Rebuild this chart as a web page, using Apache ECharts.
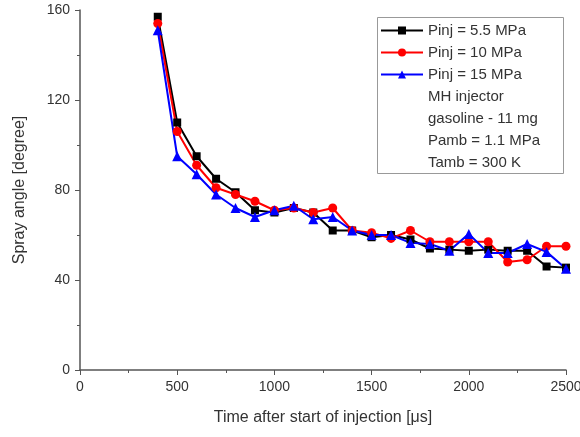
<!DOCTYPE html>
<html>
<head>
<meta charset="utf-8">
<script src="https://cdn.jsdelivr.net/npm/echarts@6/dist/echarts.min.js"></script>
<style>
  html, body { margin: 0; padding: 0; background: #fff; }
  #main { width: 580px; height: 437px; }
</style>
</head>
<body>
<div id="main"></div>
<script>
// time after start of injection [us]
var times = [400, 500, 600, 700, 800, 900, 1000, 1100, 1200, 1300, 1400, 1500, 1600, 1700, 1800, 1900, 2000, 2100, 2200, 2300, 2400, 2500];
// spray angle [degree]
var p55 = [157, 110, 95, 85, 79, 71, 70, 72, 70, 62, 62, 59, 60, 58, 54, 53.5, 53, 53.5, 53, 53, 46, 45.5];
var p10 = [154, 106, 91, 81, 78, 75, 71, 72, 70, 72, 62, 61, 58.5, 62, 57, 57, 57, 57, 48, 49, 55, 55];
var p15 = [151, 95, 87, 78, 72, 68, 71, 73, 67, 68, 62, 60, 60, 56.5, 56, 53, 60.5, 52, 52, 56, 52.5, 45];
var seriesNames = ['Pinj = 5.5 MPa', 'Pinj = 10 MPa', 'Pinj = 15 MPa'];
var noteLines = ['MH injector', 'gasoline - 11 mg', 'Pamb = 1.1 MPa', 'Tamb = 300 K'];

function pairs(ys) {
    var out = [];
    for (var i = 0; i < times.length; i++) {
        out.push([times[i], ys[i]]);
    }
    return out;
}

var myChart = echarts.init(document.getElementById('main'));
var font = 'Liberation Sans, Arial, sans-serif';

var option = {
    animation: false,
    grid: { left: 80, right: 14, top: 10, bottom: 67, outerBoundsMode: 'none', containLabel: false },
    legend: {
        orient: 'vertical',
        left: 380,
        top: 23,
        padding: 0,
        itemWidth: 42,
        itemHeight: 10,
        itemGap: 7,
        textStyle: { fontFamily: font, fontSize: 15, color: '#333' },
        data: seriesNames
    },
    xAxis: {
        type: 'value',
        min: 0,
        max: 2500,
        interval: 500,
        name: 'Time after start of injection [\u03bcs]',
        nameLocation: 'middle',
        nameGap: 40,
        nameTextStyle: { fontFamily: font, fontSize: 16, color: '#333' },
        axisLine: { lineStyle: { color: '#555', width: 1.5 } },
        axisTick: { length: 5, lineStyle: { color: '#555' } },
        minorTick: { show: true, splitNumber: 2, length: 3, lineStyle: { color: '#555' } },
        axisLabel: {
            fontFamily: font, fontSize: 14, color: '#333', margin: 10,
            formatter: function (v) { return String(v); }
        },
        splitLine: { show: false }
    },
    yAxis: {
        type: 'value',
        min: 0,
        max: 160,
        interval: 40,
        name: 'Spray angle [degree]',
        nameLocation: 'middle',
        nameGap: 52,
        nameTextStyle: { fontFamily: font, fontSize: 16, color: '#333' },
        axisLine: { show: true, lineStyle: { color: '#555', width: 1.5 } },
        axisTick: { show: true, length: 5, lineStyle: { color: '#555' } },
        minorTick: { show: true, splitNumber: 2, length: 3, lineStyle: { color: '#555' } },
        axisLabel: { fontFamily: font, fontSize: 14, color: '#333', margin: 10 },
        splitLine: { show: false }
    },
    series: [
        {
            name: seriesNames[0],
            type: 'line',
            data: pairs(p55),
            symbol: 'rect',
            symbolSize: 8,
            color: '#000000',
            lineStyle: { width: 2 }
        },
        {
            name: seriesNames[1],
            type: 'line',
            data: pairs(p10),
            symbol: 'circle',
            symbolSize: 9,
            color: '#ff0000',
            lineStyle: { width: 2 }
        },
        {
            name: seriesNames[2],
            type: 'line',
            data: pairs(p15),
            symbol: 'triangle',
            symbolSize: 10,
            color: '#0000ff',
            lineStyle: { width: 2 }
        }
    ],
    graphic: [
        {
            type: 'rect',
            left: 377,
            top: 17,
            shape: { width: 186, height: 156 },
            style: { fill: '#fff', stroke: '#999', lineWidth: 1 },
            z: 0
        }
    ]
};

// extra text lines under the legend entries
for (var i = 0; i < noteLines.length; i++) {
    option.graphic.push({
        type: 'text',
        left: 428,
        top: 89 + i * 22,
        style: { text: noteLines[i], font: '15px ' + font, fill: '#333' },
        z: 5
    });
}

myChart.setOption(option);
</script>
</body>
</html>
